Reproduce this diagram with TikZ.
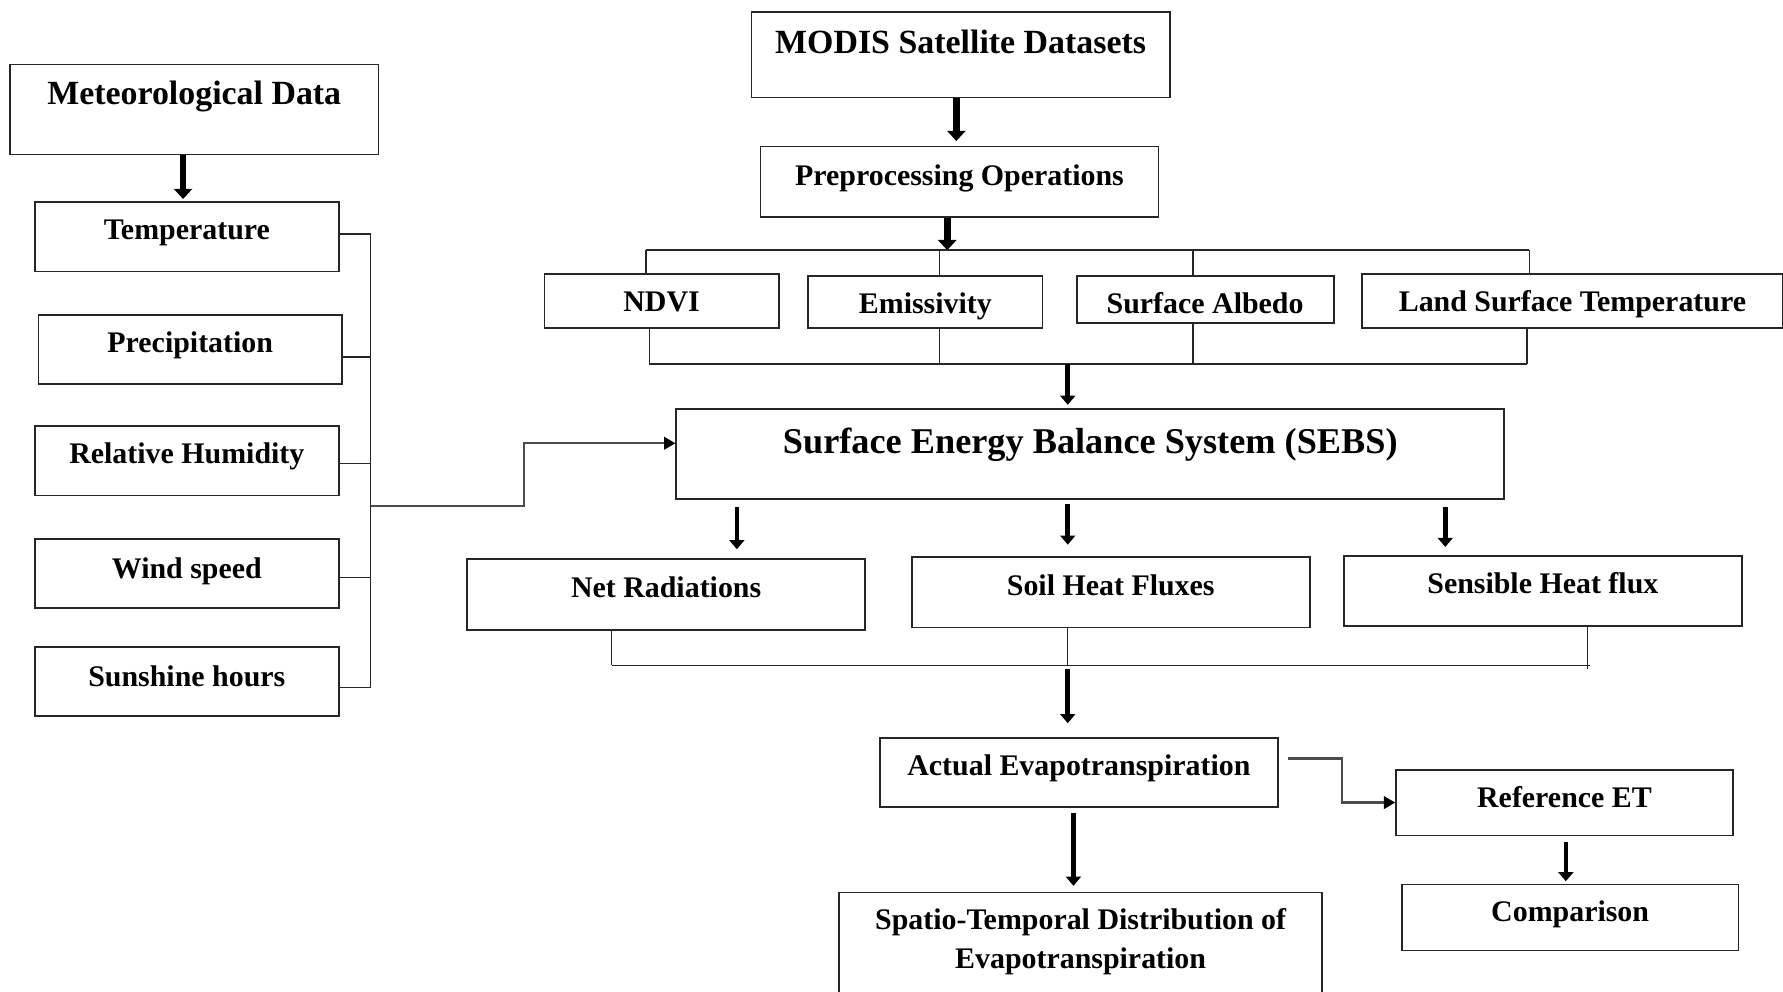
\documentclass[tikz,border=0pt]{standalone}
\usepackage{fontspec}
\setmainfont{Liberation Serif}
\usetikzlibrary{arrows.meta,calc}
\newcommand\ttlfont{\fontsize{29.8}{36}\selectfont\bfseries}
\newcommand\lblfont{\fontsize{26.3}{32}\selectfont\bfseries}
\newcommand\sebsfont{\fontsize{31.9}{38}\selectfont\bfseries}
\begin{document}
\begin{tikzpicture}[x=1pt,y=-1pt,
  bx/.style n args={3}{draw=black!85, line width=1.6pt, anchor=north west, inner sep=0pt,
     minimum width=#1pt, text height=#2pt, text depth=#3pt, font=\lblfont},
  conn/.style={draw=black!85, line width=1.2pt},
  arr/.style={draw=black, line width=4pt, -{Triangle[length=8pt 0, width=13pt 0]}},
  bigarr/.style={draw=black, line width=6pt, -{Triangle[length=9pt 0, width=16pt 0]}},
  feed/.style={draw=black!70, line width=2pt, -{Triangle[length=10pt 0, width=11pt 0, fill=black, color=black]}}]
\fill[white] (0,0) rectangle (1568,872);
\useasboundingbox (0,0) rectangle (1568,872);

% left column
\node[bx={324}{35}{44}, font=\ttlfont] (met) at (8,56) {Meteorological Data};
\node[bx={267}{33}{28}] (temp) at (30,177) {Temperature};
\node[bx={267}{33}{28}] (prec) at (33,276) {Precipitation};
\node[bx={267}{33}{28}] (rh) at (30,374) {Relative Humidity};
\node[bx={267}{35}{26}] (wind) at (30,473) {Wind speed};
\node[bx={267}{35}{26}] (sun) at (30,568) {Sunshine hours};

% satellite branch
\node[bx={368}{36}{39}, font=\ttlfont] (modis) at (660,10) {MODIS Satellite Datasets};
\node[bx={350}{34}{28}] (prep) at (668,128) {Preprocessing Operations};
\node[bx={206}{33}{15}] (ndvi) at (478,240) {NDVI};
\node[bx={206}{33}{13}] (emis) at (710,242) {Emissivity};
\node[bx={226}{33}{8}] (alb) at (946,242) {Surface Albedo};
\node[bx={370}{33}{15}] (lst) at (1197,240) {Land Surface Temperature};
\node[bx={728}{39}{40}, font=\sebsfont] (sebs) at (594,359) {Surface Energy Balance System (SEBS)};
\node[bx={350}{34}{28}] (net) at (410,491) {Net Radiations};
\node[bx={350}{34}{28}] (soil) at (801,489) {Soil Heat Fluxes};
\node[bx={350}{33}{29}] (sens) at (1181,488) {Sensible Heat flux};
\node[bx={350}{33}{28}] (aet) at (773,648) {Actual Evapotranspiration};
\node[bx={296}{33}{25}] (refet) at (1227,676) {Reference ET};
\node[bx={296}{33}{25}] (comp) at (1232,777) {Comparison};
\node[bx={425}{33}{63}] (spat) at (737,784)
  {\begin{tabular}[t]{@{}c@{}}Spatio-Temporal Distribution of\\[2pt] Evapotranspiration\end{tabular}};

% helper coordinates
\coordinate (brk) at (326,0);
\coordinate (feedst) at (326,445);
\coordinate (xmet) at (161,0);
\coordinate (xmod) at (841,0);
\coordinate (xpre) at (833,0);
\coordinate (xmid) at (939,0);
\coordinate (xn) at (648,0);
\coordinate (xh) at (1271,0);
\coordinate (xae) at (944,0);
\coordinate (xre) at (1377,0);
\coordinate (ta) at (568,220);
\coordinate (tb) at (826,220);
\coordinate (tc) at (1049,220);
\coordinate (td) at (1345,220);
\coordinate (ba) at (571,320);
\coordinate (bb) at (826,320);
\coordinate (bc) at (1049,320);
\coordinate (bd) at (1343,320);
\coordinate (la) at (538,585);
\coordinate (lb) at (939,585);
\coordinate (lc) at (1398,585);
\coordinate (lct) at (1396,588);
\coordinate (aeo) at (1133,667);

% meteorological bracket
\draw[bigarr, shorten >=2pt] (met.south -| xmet) -- (temp.north -| xmet);
\draw[conn] ([yshift=2.5pt]temp.east) -- ([yshift=2.5pt]temp.east -| brk)
  -- ([yshift=-5.5pt]sun.east -| brk) -- ([yshift=-5.5pt]sun.east);
\draw[conn] ([yshift=-6.5pt]prec.east) -- ([yshift=-6.5pt]prec.east -| brk);
\draw[conn] ([yshift=-2.5pt]rh.east) -- ([yshift=-2.5pt]rh.east -| brk);
\draw[conn] ([yshift=-3.5pt]wind.east) -- ([yshift=-3.5pt]wind.east -| brk);
\draw[feed] (feedst) -- ++(135,0) |- ([yshift=9.5pt]sebs.west);

% satellite chain
\draw[bigarr, shorten >=4pt] (modis.south -| xmod) -- (prep.north -| xmod);
\draw[bigarr] (prep.south -| xpre) -- (ta -| xpre);
\draw[conn] (ta) -- (td);
\draw[conn] (ta) -- (ta |- ndvi.north);
\draw[conn] (tb) -- (tb |- emis.north);
\draw[conn] (tc) -- (tc |- alb.north);
\draw[conn] (td) -- (td |- lst.north);
\draw[conn] (ba) -- (bd);
\draw[conn] (ba |- ndvi.south) -- (ba);
\draw[conn] (bb |- emis.south) -- (bb);
\draw[conn] (bc |- alb.south) -- (bc);
\draw[conn] (bd |- lst.south) -- (bd);
\draw[arr, shorten >=3pt] (ba -| xmid) -- (sebs.north -| xmid);

% SEBS outputs
\draw[arr, shorten <=6pt, shorten >=8pt] (sebs.south -| xn) -- (net.north -| xn);
\draw[arr, shorten <=4pt, shorten >=10pt] (sebs.south -| xmid) -- (soil.north -| xmid);
\draw[arr, shorten <=6pt, shorten >=7pt] (sebs.south -| xh) -- (sens.north -| xh);
\draw[conn] (la) -- (lc);
\draw[conn] (la |- net.south) -- (la);
\draw[conn] (lb |- soil.south) -- (lb);
\draw[conn] (lct |- sens.south) -- (lct);
\draw[arr, shorten <=3pt, shorten >=12pt] (la -| xmid) -- (aet.north -| xmid);

% evapotranspiration
\draw[feed] (aeo) -- ++(47,0) |- (refet.west);
\draw[arr, shorten <=4pt, shorten >=5pt] (aet.south -| xae) -- (spat.north -| xae);
\draw[arr, shorten <=5pt, shorten >=2pt] (refet.south -| xre) -- (comp.north -| xre);
\end{tikzpicture}
\end{document}
